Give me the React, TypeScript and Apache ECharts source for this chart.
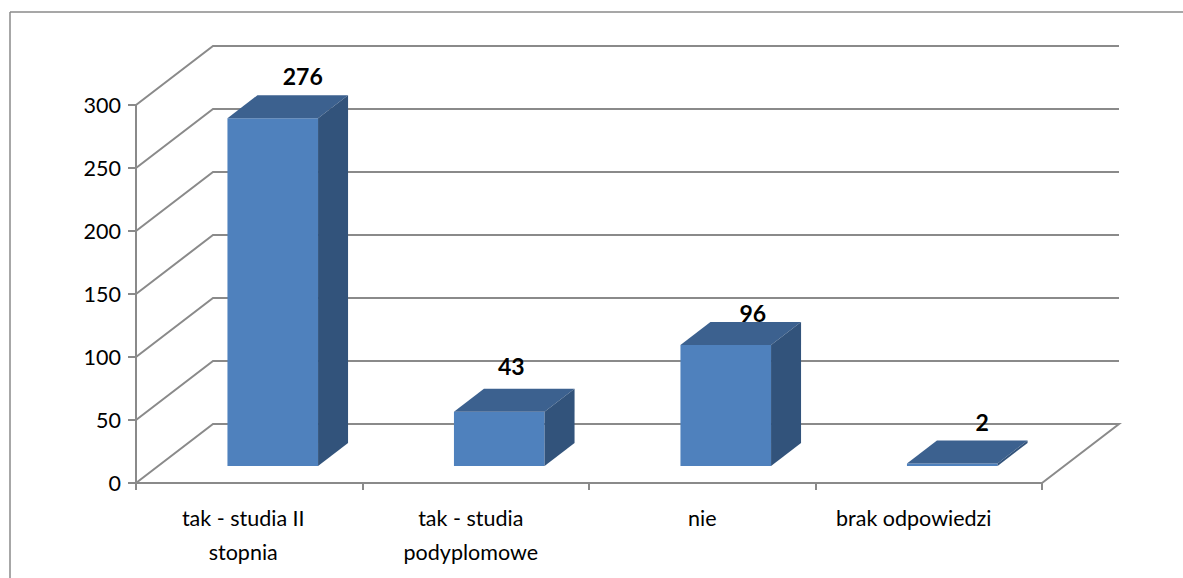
import React, { useEffect, useRef } from "react";
import * as echarts from "echarts";

const categories = ["tak - studia II\nstopnia", "tak - studia\npodyplomowe", "nie", "brak odpowiedzi"];
const values = [276, 43, 96, 2];
const yTicks = [0, 50, 100, 150, 200, 250, 300];
// Hand-placed label shifts in the reference, relative to the front face's top centre.
const labelShiftX = [30, 12, 27, 30];
const labelShiftY = [-42, -46, -32, -41];
const categoryShift = [12, 10, 0, 30];

const LINE = "#8a8a8a";
const FONT = "Lato";
const AXIS_FONT_SIZE = 21.5;
const WALL_DX = 77;
const WALL_DY = -59;
const BAR_DX = 30;
const BAR_DY = -23;
const BAR_RATIO = 0.4;
const FLOOR_DX = 23.5;
const FLOOR_DY = -17;

export default function App() {
  const ref = useRef<HTMLDivElement>(null);
  useEffect(() => {
    const chart = echarts.init(ref.current!, null, { renderer: "svg" });
    chart.setOption({
      animation: false,
      backgroundColor: "#ffffff",
      graphic: [
        { type: "line", silent: true, shape: { x1: 10, y1: 12, x2: 10, y2: 578 }, style: { stroke: LINE, lineWidth: 1.5 } },
        { type: "line", silent: true, shape: { x1: 10, y1: 12, x2: 1183, y2: 12 }, style: { stroke: LINE, lineWidth: 1.5 } },
      ],
      grid: { left: 136, top: 105, width: 906, height: 378, containLabel: false },
      xAxis: {
        type: "category",
        data: categories,
        axisLine: { lineStyle: { color: LINE, width: 2 } },
        axisTick: { show: true, length: 7, lineStyle: { color: LINE, width: 2 } },
        axisLabel: {
          interval: 0,
          margin: 18,
          fontFamily: FONT,
          fontSize: AXIS_FONT_SIZE,
          color: "#000",
          lineHeight: 34,
          formatter: (text: string) => {
            const i = categories.indexOf(text);
            return text.split("\n").map((t) => `{c${i}|${t}}`).join("\n");
          },
          rich: Object.fromEntries(
            categoryShift.map((s, i) => [`c${i}`, { padding: [0, s, 0, 0], fontFamily: FONT, fontSize: AXIS_FONT_SIZE, color: "#000", lineHeight: 34 }])
          ),
        },
      },
      yAxis: {
        type: "value",
        min: 0,
        max: 300,
        interval: 50,
        splitLine: { show: false },
        axisLine: { show: true, lineStyle: { color: LINE, width: 2 } },
        axisTick: { show: true, length: 8, lineStyle: { color: LINE, width: 2 } },
        axisLabel: { margin: 15, padding: [4, 0, 0, 0], fontFamily: FONT, fontSize: AXIS_FONT_SIZE, color: "#000" },
      },
      series: [
        {
          type: "custom",
          coordinateSystem: "cartesian2d",
          clip: false,
          silent: true,
          z: 1,
          encode: { x: 0, y: 1 },
          data: yTicks.map((v) => [0, v]),
          renderItem: (params: any, api: any) => {
            const cs = params.coordSys;
            const y = api.coord([0, api.value(1)])[1];
            return {
              type: "polyline",
              shape: {
                points: [
                  [cs.x, y],
                  [cs.x + WALL_DX, y + WALL_DY],
                  [cs.x + cs.width + WALL_DX, y + WALL_DY],
                  ...(api.value(1) === 0 ? [[cs.x + cs.width, y]] : []),
                ],
              },
              style: { stroke: LINE, lineWidth: 2, fill: "none" },
            };
          },
        },
        {
          type: "custom",
          coordinateSystem: "cartesian2d",
          clip: false,
          silent: true,
          z: 3,
          encode: { x: 0, y: 1 },
          data: values.map((v, i) => [i, v]),
          renderItem: (params: any, api: any) => {
            const i = api.value(0);
            const v = api.value(1);
            const band = api.size([1, 0])[0];
            const w = band * BAR_RATIO;
            const base = api.coord([i, 0]);
            const top = api.coord([i, v]);
            const cx = base[0] + FLOOR_DX;
            const l = cx - w / 2;
            const r = cx + w / 2;
            const b = base[1] + FLOOR_DY;
            const t = top[1] + FLOOR_DY;
            return {
              type: "group",
              children: [
                { type: "polygon", shape: { points: [[l, b], [r, b], [r, t], [l, t]] }, style: { fill: "#4f81bd" } },
                { type: "polygon", shape: { points: [[l, t], [r, t], [r + BAR_DX, t + BAR_DY], [l + BAR_DX, t + BAR_DY]] }, style: { fill: "#3c618f" } },
                { type: "polygon", shape: { points: [[r, t], [r, b], [r + BAR_DX, b + BAR_DY], [r + BAR_DX, t + BAR_DY]] }, style: { fill: "#32537b" } },
                {
                  type: "text",
                  z2: 10,
                  style: {
                    text: String(v),
                    x: cx + labelShiftX[i],
                    y: t + labelShiftY[i],
                    align: "center",
                    verticalAlign: "middle",
                    fontFamily: FONT,
                    fontWeight: "bold",
                    fontSize: 23,
                    fill: "#000",
                  },
                },
              ],
            };
          },
        },
      ],
    });
    return () => chart.dispose();
  }, []);
  return <div ref={ref} style={{ position: "absolute", left: 0, top: 0, width: 1183, height: 578 }} />;
}
